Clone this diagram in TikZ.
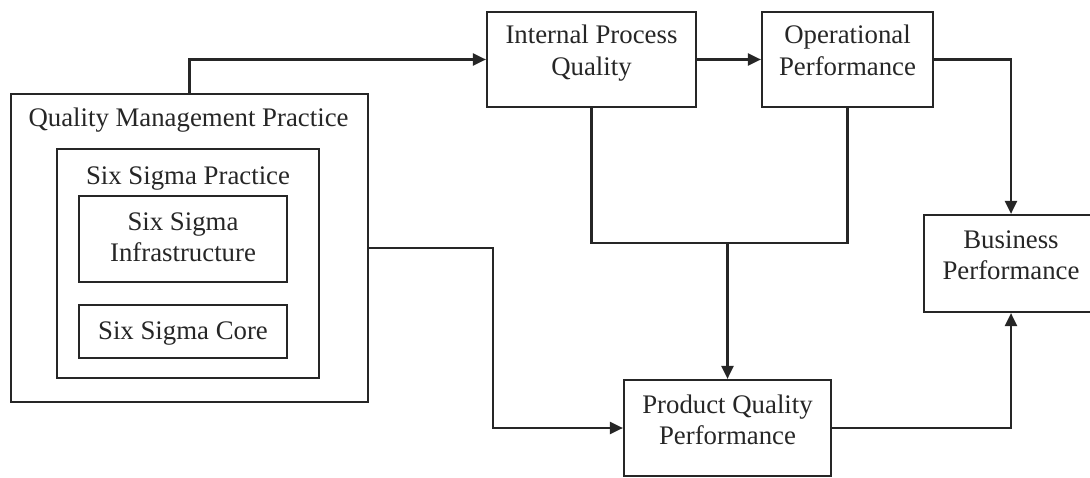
\documentclass[tikz,border=0pt]{standalone}
\usepackage{fontspec}
\setmainfont{Liberation Serif}
\usetikzlibrary{arrows.meta}
\begin{document}
\begin{tikzpicture}[x=1pt,y=-1pt,
  txt/.style={font=\fontsize{26.8}{32}\selectfont,text=black!85,inner sep=0pt,anchor=base},
  box/.style={draw=black!85,line width=2.2pt,rectangle,inner sep=0pt},
  link/.style={line width=2.2pt,draw=black!85,-{Triangle[length=13pt,width=12pt]}},
  wire/.style={line width=2.2pt,draw=black!85}]
\useasboundingbox (0,0) rectangle (1090,478);

% left block: nested practice boxes
\node[box,minimum width=357pt,minimum height=308pt] (qmp) at (189.5,248) {};
\node[txt] (qmpt) at (188.5,127) {Quality Management Practice};
\node[box,minimum width=262pt,minimum height=229pt] (ssp) at (188,263.5) {};
\node[txt] (sspt) at (188,185) {Six Sigma Practice};
\node[box,minimum width=208pt,minimum height=86pt] (infra) at (183,239) {};
\node[txt] (infra1) at (183,231) {Six Sigma};
\node[txt] (infra2) at (183,262) {Infrastructure};
\node[box,minimum width=208pt,minimum height=53pt] (core) at (183,331.5) {};
\node[txt] (coret) at (183,340) {Six Sigma Core};

% outcome boxes
\node[box,minimum width=209pt,minimum height=95pt] (ipq) at (591.5,59.5) {};
\node[txt] (ipq1) at (591.5,44) {Internal Process};
\node[txt] (ipq2) at (591.5,76) {Quality};
\node[box,minimum width=171pt,minimum height=95pt] (op) at (847.5,59.5) {};
\node[txt] (op1) at (847.5,44) {Operational};
\node[txt] (op2) at (847.5,76) {Performance};
\node[box,minimum width=174pt,minimum height=97pt] (bp) at (1011,263.5) {};
\node[txt] (bp1) at (1011,249) {Business};
\node[txt] (bp2) at (1011,280) {Performance};
\node[box,minimum width=207pt,minimum height=96pt] (pqp) at (727.5,428) {};
\node[txt] (pqp1) at (727.5,413) {Product Quality};
\node[txt] (pqp2) at (727.5,444) {Performance};

% junction points
\coordinate (j1) at (493,248);
\coordinate (j2) at (727.5,243);

% connectors
\draw[link] (qmp.north) |- (ipq.west);
\draw[link] (qmp.east) -- (j1) |- (pqp.west);
\draw[link] (ipq.east) -- (op.west);
\draw[link] (op.east) -| (bp.north);
\draw[wire] (ipq.south) |- (j2) -| (op.south);
\draw[link] (j2) -- (pqp.north);
\draw[link] (pqp.east) -| (bp.south);
\end{tikzpicture}
\end{document}
